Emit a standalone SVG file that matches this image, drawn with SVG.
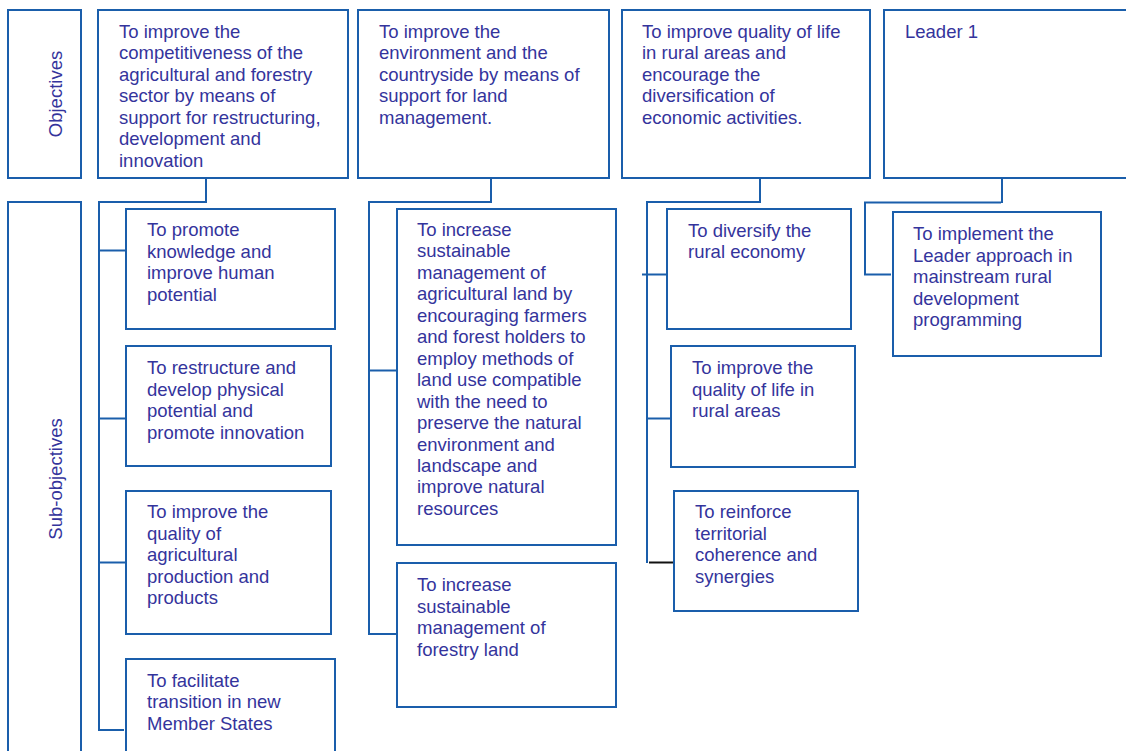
<svg xmlns="http://www.w3.org/2000/svg" width="1126" height="751" viewBox="0 0 1126 751">
  <style>
    .box { fill: #ffffff; stroke: #1a5eab; stroke-width: 2; }
    .lbl { font-family: "Liberation Sans", Arial, sans-serif; font-size: 18.5px; fill: #34349c; }
    .wire { fill: none; stroke: #1a5eab; stroke-width: 2; }
    .wire-dark { fill: none; stroke: #111111; stroke-width: 2; }
  </style>
  <rect width="1126" height="751" fill="#ffffff"/>

  <!-- row headers -->
  <g id="hdr-objectives">
    <rect class="box" x="8" y="10" width="73" height="168"/>
    <text class="lbl" text-anchor="middle" transform="translate(62,94) rotate(-90)">Objectives</text>
  </g>
  <g id="hdr-subobjectives">
    <rect class="box" x="8" y="202" width="73" height="570"/>
    <text class="lbl" text-anchor="middle" transform="translate(62,479) rotate(-90)">Sub-objectives</text>
  </g>

  <!-- connectors -->
  <g id="connectors">
    <polyline class="wire" points="206,178 206,202 99,202 99,730 124,730"/>
    <line class="wire" x1="99" y1="250.5" x2="126" y2="250.5"/>
    <line class="wire" x1="99" y1="418.5" x2="126" y2="418.5"/>
    <line class="wire" x1="99" y1="562.5" x2="126" y2="562.5"/>

    <polyline class="wire" points="491,178 491,202 369,202 369,634 396,634"/>
    <line class="wire" x1="369" y1="370.5" x2="396" y2="370.5"/>

    <polyline class="wire" points="760,178 760,202 647,202 647,563"/>
    <line class="wire" x1="642" y1="274.5" x2="667" y2="274.5"/>
    <line class="wire" x1="647" y1="418.5" x2="671" y2="418.5"/>
    <line class="wire-dark" x1="649" y1="562.5" x2="674" y2="562.5"/>

    <line class="wire" x1="1002" y1="178" x2="1002" y2="203"/>
    <polyline class="wire" points="1001,202.5 865,202.5 865,274.5 891,274.5"/>
  </g>

  <!-- objectives -->
  <g id="obj-competitiveness">
    <rect class="box" x="98" y="10" width="250" height="168"/>
    <text class="lbl" x="119" y="37.7">
      <tspan x="119" dy="0">To improve the</tspan>
      <tspan x="119" dy="21.5">competitiveness of the</tspan>
      <tspan x="119" dy="21.5">agricultural and forestry</tspan>
      <tspan x="119" dy="21.5">sector by means of</tspan>
      <tspan x="119" dy="21.5">support for restructuring,</tspan>
      <tspan x="119" dy="21.5">development and</tspan>
      <tspan x="119" dy="21.5">innovation</tspan>
    </text>
  </g>
  <g id="obj-environment">
    <rect class="box" x="358" y="10" width="251" height="168"/>
    <text class="lbl" x="379" y="37.7">
      <tspan x="379" dy="0">To improve the</tspan>
      <tspan x="379" dy="21.5">environment and the</tspan>
      <tspan x="379" dy="21.5">countryside by means of</tspan>
      <tspan x="379" dy="21.5">support for land</tspan>
      <tspan x="379" dy="21.5">management.</tspan>
    </text>
  </g>
  <g id="obj-quality-of-life">
    <rect class="box" x="622" y="10" width="248" height="168"/>
    <text class="lbl" x="642" y="37.7">
      <tspan x="642" dy="0">To improve quality of life</tspan>
      <tspan x="642" dy="21.5">in rural areas and</tspan>
      <tspan x="642" dy="21.5">encourage the</tspan>
      <tspan x="642" dy="21.5">diversification of</tspan>
      <tspan x="642" dy="21.5">economic activities.</tspan>
    </text>
  </g>
  <g id="obj-leader">
    <rect class="box" x="884" y="10" width="260" height="168"/>
    <text class="lbl" x="905" y="37.7">Leader 1</text>
  </g>

  <!-- sub-objectives, column 1 -->
  <g id="sub-knowledge">
    <rect class="box" x="126" y="209" width="209" height="120"/>
    <text class="lbl" x="147" y="236">
      <tspan x="147" dy="0">To promote</tspan>
      <tspan x="147" dy="21.5">knowledge and</tspan>
      <tspan x="147" dy="21.5">improve human</tspan>
      <tspan x="147" dy="21.5">potential</tspan>
    </text>
  </g>
  <g id="sub-restructure">
    <rect class="box" x="126" y="346" width="205" height="120"/>
    <text class="lbl" x="147" y="374.3">
      <tspan x="147" dy="0">To restructure and</tspan>
      <tspan x="147" dy="21.5">develop physical</tspan>
      <tspan x="147" dy="21.5">potential and</tspan>
      <tspan x="147" dy="21.5">promote innovation</tspan>
    </text>
  </g>
  <g id="sub-production">
    <rect class="box" x="126" y="491" width="205" height="143"/>
    <text class="lbl" x="147" y="518.3">
      <tspan x="147" dy="0">To improve the</tspan>
      <tspan x="147" dy="21.5">quality of</tspan>
      <tspan x="147" dy="21.5">agricultural</tspan>
      <tspan x="147" dy="21.5">production and</tspan>
      <tspan x="147" dy="21.5">products</tspan>
    </text>
  </g>
  <g id="sub-transition">
    <rect class="box" x="126" y="659" width="209" height="120"/>
    <text class="lbl" x="147" y="686.7">
      <tspan x="147" dy="0">To facilitate</tspan>
      <tspan x="147" dy="21.5">transition in new</tspan>
      <tspan x="147" dy="21.5">Member States</tspan>
    </text>
  </g>

  <!-- sub-objectives, column 2 -->
  <g id="sub-agri-land">
    <rect class="box" x="397" y="209" width="219" height="336"/>
    <text class="lbl" x="417" y="236">
      <tspan x="417" dy="0">To increase</tspan>
      <tspan x="417" dy="21.45">sustainable</tspan>
      <tspan x="417" dy="21.45">management of</tspan>
      <tspan x="417" dy="21.45">agricultural land by</tspan>
      <tspan x="417" dy="21.45">encouraging farmers</tspan>
      <tspan x="417" dy="21.45">and forest holders to</tspan>
      <tspan x="417" dy="21.45">employ methods of</tspan>
      <tspan x="417" dy="21.45">land use compatible</tspan>
      <tspan x="417" dy="21.45">with the need to</tspan>
      <tspan x="417" dy="21.45">preserve the natural</tspan>
      <tspan x="417" dy="21.45">environment and</tspan>
      <tspan x="417" dy="21.45">landscape and</tspan>
      <tspan x="417" dy="21.45">improve natural</tspan>
      <tspan x="417" dy="21.45">resources</tspan>
    </text>
  </g>
  <g id="sub-forestry">
    <rect class="box" x="397" y="563" width="219" height="144"/>
    <text class="lbl" x="417" y="591">
      <tspan x="417" dy="0">To increase</tspan>
      <tspan x="417" dy="21.5">sustainable</tspan>
      <tspan x="417" dy="21.5">management of</tspan>
      <tspan x="417" dy="21.5">forestry land</tspan>
    </text>
  </g>

  <!-- sub-objectives, column 3 -->
  <g id="sub-diversify">
    <rect class="box" x="667" y="209" width="184" height="120"/>
    <text class="lbl" x="688" y="236.7">
      <tspan x="688" dy="0">To diversify the</tspan>
      <tspan x="688" dy="21.5">rural economy</tspan>
    </text>
  </g>
  <g id="sub-life-rural">
    <rect class="box" x="671" y="346" width="184" height="121"/>
    <text class="lbl" x="692" y="374.3">
      <tspan x="692" dy="0">To improve the</tspan>
      <tspan x="692" dy="21.5">quality of life in</tspan>
      <tspan x="692" dy="21.5">rural areas</tspan>
    </text>
  </g>
  <g id="sub-territorial">
    <rect class="box" x="674" y="491" width="184" height="120"/>
    <text class="lbl" x="695" y="518.3">
      <tspan x="695" dy="0">To reinforce</tspan>
      <tspan x="695" dy="21.5">territorial</tspan>
      <tspan x="695" dy="21.5">coherence and</tspan>
      <tspan x="695" dy="21.5">synergies</tspan>
    </text>
  </g>

  <!-- sub-objectives, column 4 -->
  <g id="sub-leader-approach">
    <rect class="box" x="893" y="212" width="208" height="144"/>
    <text class="lbl" x="913" y="240">
      <tspan x="913" dy="0">To implement the</tspan>
      <tspan x="913" dy="21.5">Leader approach in</tspan>
      <tspan x="913" dy="21.5">mainstream rural</tspan>
      <tspan x="913" dy="21.5">development</tspan>
      <tspan x="913" dy="21.5">programming</tspan>
    </text>
  </g>
</svg>
